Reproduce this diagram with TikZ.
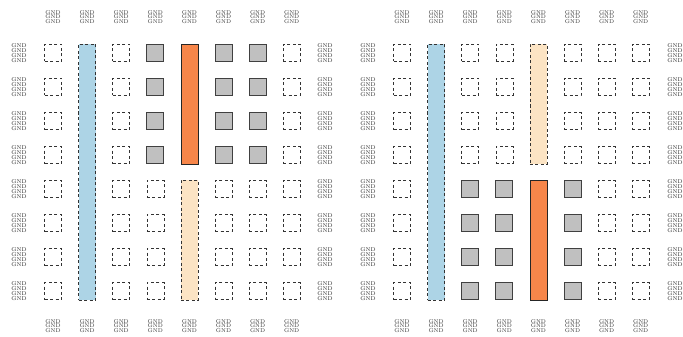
\documentclass[tikz,border=0pt]{standalone}
\usetikzlibrary{positioning}
\definecolor{barblue}{HTML}{ADD4E6}
\definecolor{barorange}{HTML}{F7864A}
\definecolor{barbisque}{HTML}{FCE4C4}
\definecolor{sqgray}{HTML}{C0C0C0}
\tikzset{
  emptysq/.style={draw=black!80, dash pattern=on 3pt off 2.5pt, line width=0.5pt, minimum size=17pt, inner sep=0pt},
  fullsq/.style={draw=black!75, fill=sqgray, line width=0.7pt, minimum size=17pt, inner sep=0pt},
  bluebar/.style={draw=black!80, fill=barblue, dash pattern=on 3pt off 2.5pt, line width=0.5pt, minimum width=17pt, inner sep=0pt},
  bisquebar/.style={draw=black!80, fill=barbisque, dash pattern=on 3pt off 2.5pt, line width=0.5pt, minimum width=17pt, inner sep=0pt},
  orangebar/.style={draw=black!85, fill=barorange, line width=0.7pt, minimum width=17pt, inner sep=0pt},
  toplab/.style={font=\fontsize{5.5}{4.6}\selectfont, text=black!80, align=center, inner sep=0pt},
  sidelab/.style={font=\fontsize{5.5}{3.6}\selectfont, text=black!85, align=center, inner sep=0pt}
}
\begin{document}
\begin{tikzpicture}[x=1pt,y=-1pt]
\useasboundingbox (0,0) rectangle (683,337);
% ---------- left grid ----------
\foreach \c in {0,...,7}{
  \pgfmathsetmacro{\xx}{53+34.1*\c}
  \node[toplab] (LT\c) at (\xx,17) {GND\\GND\\GND};
  \node[toplab] (LB\c) at (\xx,326) {GND\\GND\\GND};
}
\foreach \r in {0,...,7}{
  \pgfmathsetmacro{\yy}{53+34*\r}
  \node[sidelab] (LL\r) at (19,\yy) {GND\\GND\\GND\\GND};
  \node[sidelab] (LR\r) at (325,\yy) {GND\\GND\\GND\\GND};
}
% empty squares left grid
\foreach \c in {0,2,5,7}{
  \foreach \r in {0,...,7}{
    \pgfmathsetmacro{\xx}{53+34.1*\c}
    \pgfmathsetmacro{\yy}{53+34*\r}
    \node[emptysq] (L\c-\r) at (\xx,\yy) {};
  }
}
\foreach \c in {3,5,6}{
  \foreach \r in {4,...,7}{
    \pgfmathsetmacro{\xx}{53+34.1*\c}
    \pgfmathsetmacro{\yy}{53+34*\r}
    \node[emptysq] (L\c-\r) at (\xx,\yy) {};
  }
}
\foreach \c in {3,5,6}{
  \foreach \r in {0,...,3}{
    \pgfmathsetmacro{\xx}{53+34.1*\c}
    \pgfmathsetmacro{\yy}{53+34*\r}
    \node[fullsq] (LF\c-\r) at (\xx,\yy) {};
  }
}
\node[bluebar, minimum height=256pt] (Lblue) at (87.1,172) {};
\node[orangebar, minimum height=120pt] (Lorange) at (189.4,104) {};
\node[bisquebar, minimum height=120pt] (Lbisque) at (189.4,240) {};
% ---------- right grid ----------
\foreach \c in {0,...,7}{
  \pgfmathsetmacro{\xx}{402+34.1*\c}
  \node[toplab] (RT\c) at (\xx,17) {GND\\GND\\GND};
  \node[toplab] (RB\c) at (\xx,326) {GND\\GND\\GND};
}
\foreach \r in {0,...,7}{
  \pgfmathsetmacro{\yy}{53+34*\r}
  \node[sidelab] (RL\r) at (368,\yy) {GND\\GND\\GND\\GND};
  \node[sidelab] (RR\r) at (675,\yy) {GND\\GND\\GND\\GND};
}
\foreach \c in {0,6,7}{
  \foreach \r in {0,...,7}{
    \pgfmathsetmacro{\xx}{402+34.1*\c}
    \pgfmathsetmacro{\yy}{53+34*\r}
    \node[emptysq] (R\c-\r) at (\xx,\yy) {};
  }
}
\foreach \c in {2,3,5}{
  \foreach \r in {0,...,3}{
    \pgfmathsetmacro{\xx}{402+34.1*\c}
    \pgfmathsetmacro{\yy}{53+34*\r}
    \node[emptysq] (R\c-\r) at (\xx,\yy) {};
  }
}
\foreach \c in {2,3,5}{
  \foreach \r in {4,...,7}{
    \pgfmathsetmacro{\xx}{402+34.1*\c}
    \pgfmathsetmacro{\yy}{53+34*\r}
    \node[fullsq] (RF\c-\r) at (\xx,\yy) {};
  }
}
\node[bluebar, minimum height=256pt] (Rblue) at (436.1,172) {};
\node[bisquebar, minimum height=120pt] (Rbisque) at (538.4,104) {};
\node[orangebar, minimum height=120pt] (Rorange) at (538.4,240) {};
\end{tikzpicture}
\end{document}
